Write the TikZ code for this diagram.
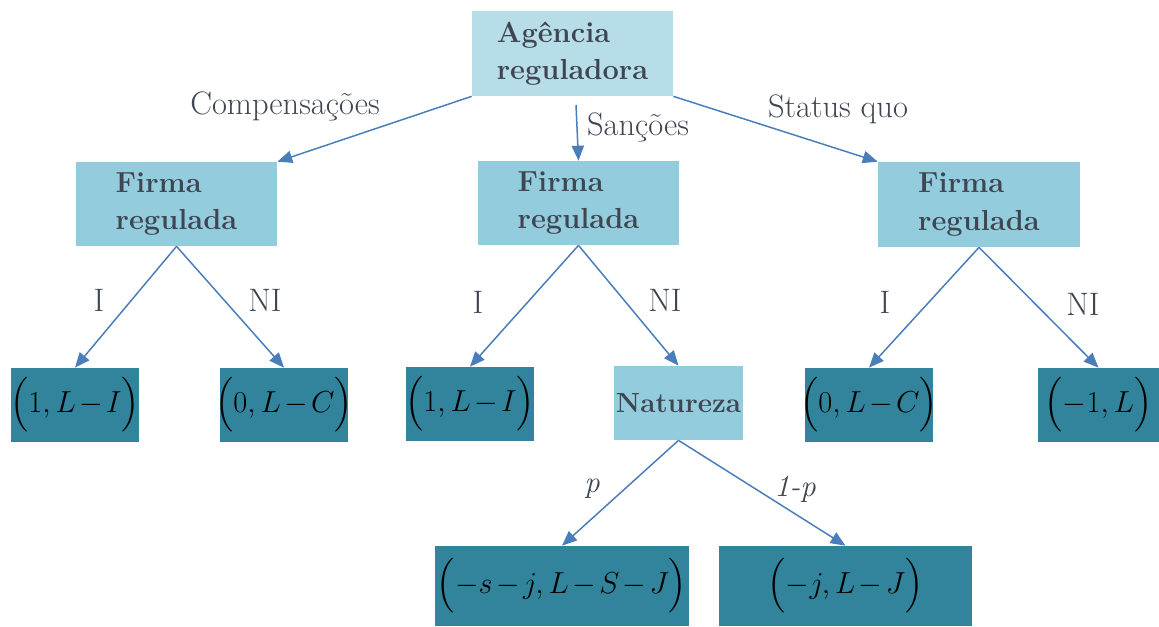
\documentclass[tikz,border=0pt]{standalone}
\usepackage{amsmath}
\usetikzlibrary{arrows.meta}
\definecolor{topfill}{HTML}{B7DEE8}
\definecolor{firmfill}{HTML}{93CDDD}
\definecolor{leaffill}{HTML}{31849B}
\definecolor{arrowblue}{HTML}{4A7EBB}
\definecolor{greytext}{HTML}{3F4652}
\tikzset{
	box/.style={inner sep=0pt, align=left, text=greytext, font=\fontsize{16.5}{21.5}\selectfont\bfseries},
	leaf/.style={inner sep=0pt, fill=leaffill, minimum width=2.56cm, minimum height=1.48cm, font=\fontsize{16}{19}\selectfont},
	lbl/.style={inner sep=0pt, text=greytext, font=\fontsize{18.5}{21}\selectfont},
	arr/.style={->, draw=arrowblue, line width=0.85pt}
}
\newcommand{\payoff}[1]{\makebox[0pt]{$\medmuskip=2mu\Bigl(#1\Bigr)$}}
\begin{document}
\begin{tikzpicture}[x=0.02cm, y=-0.02cm, >={Triangle[length=8.5pt,width=7pt]}]
	\useasboundingbox (0,0) rectangle (1159,626);
	% decisores
	\node[box, fill=topfill, minimum width=4.02cm, minimum height=1.7cm] (agencia) at (572.5,53.5) {Agência\\reguladora};
	\node[box, fill=firmfill, minimum width=4.02cm, minimum height=1.68cm] (firmaA) at (176.5,204) {Firma\\regulada};
	\node[box, fill=firmfill, minimum width=4.02cm, minimum height=1.68cm] (firmaB) at (578.5,203) {Firma\\regulada};
	\node[box, fill=firmfill, minimum width=4.04cm, minimum height=1.7cm] (firmaC) at (979,204.5) {Firma\\regulada};
	\node[box, fill=firmfill, minimum width=2.58cm, minimum height=1.48cm, font=\fontsize{15.8}{20}\selectfont\bfseries] (natureza) at (678.5,403) {Natureza};
	% payoffs
	\node[leaf] (leafA1) at (75,405) {\payoff{1,L-I}};
	\node[leaf] (leafA2) at (284,405) {\payoff{0,L-C}};
	\node[leaf] (leafB1) at (470,404) {\payoff{1,L-I}};
	\node[leaf] (leafC1) at (869,405) {\payoff{0,L-C}};
	\node[leaf, minimum width=2.42cm] (leafC2) at (1098.5,405) {\payoff{-1,L}};
	\node[leaf, minimum width=5.08cm, minimum height=1.6cm] (leafN1) at (562,586) {\payoff{-s-j,L-S-J}};
	\node[leaf, minimum width=5.06cm, minimum height=1.6cm] (leafN2) at (845.5,586) {\payoff{-j,L-J}};
	% ramos
	\coordinate (sstart) at (576,105);
	\draw[arr] (agencia.south west) -- (firmaA.north east);
	\draw[arr] (sstart) -- (firmaB.north);
	\draw[arr] (agencia.south east) -- (firmaC.north west);
	\draw[arr] (firmaA.south) -- (leafA1.north);
	\draw[arr] (firmaA.south) -- (leafA2.north);
	\draw[arr] (firmaB.south) -- (leafB1.north);
	\draw[arr] (firmaB.south) -- (natureza.north);
	\draw[arr] (firmaC.south) -- (leafC1.north);
	\draw[arr] (firmaC.south) -- (leafC2.north);
	\draw[arr] (natureza.south) -- (leafN1.north);
	\draw[arr] (natureza.south) -- (leafN2.north);
	% rotulos
	\node[lbl] (lcomp) at (285,106) {Compensações};
	\node[lbl] (lsanc) at (638,127) {Sanções};
	\node[lbl] (lstat) at (838,109) {Status quo};
	\node[lbl] (lA1) at (99,300) {I};
	\node[lbl] (lA2) at (265,300) {NI};
	\node[lbl] (lB1) at (478,302) {I};
	\node[lbl] (lB2) at (665,300) {NI};
	\node[lbl] (lC1) at (885,302) {I};
	\node[lbl] (lC2) at (1083,304) {NI};
	\node[lbl, font=\fontsize{17.5}{20}\selectfont] (lp) at (592,489) {\textit{p}};
	\node[lbl, font=\fontsize{17.5}{20}\selectfont] (lq) at (795,489) {\textit{1-p}};
\end{tikzpicture}
\end{document}
